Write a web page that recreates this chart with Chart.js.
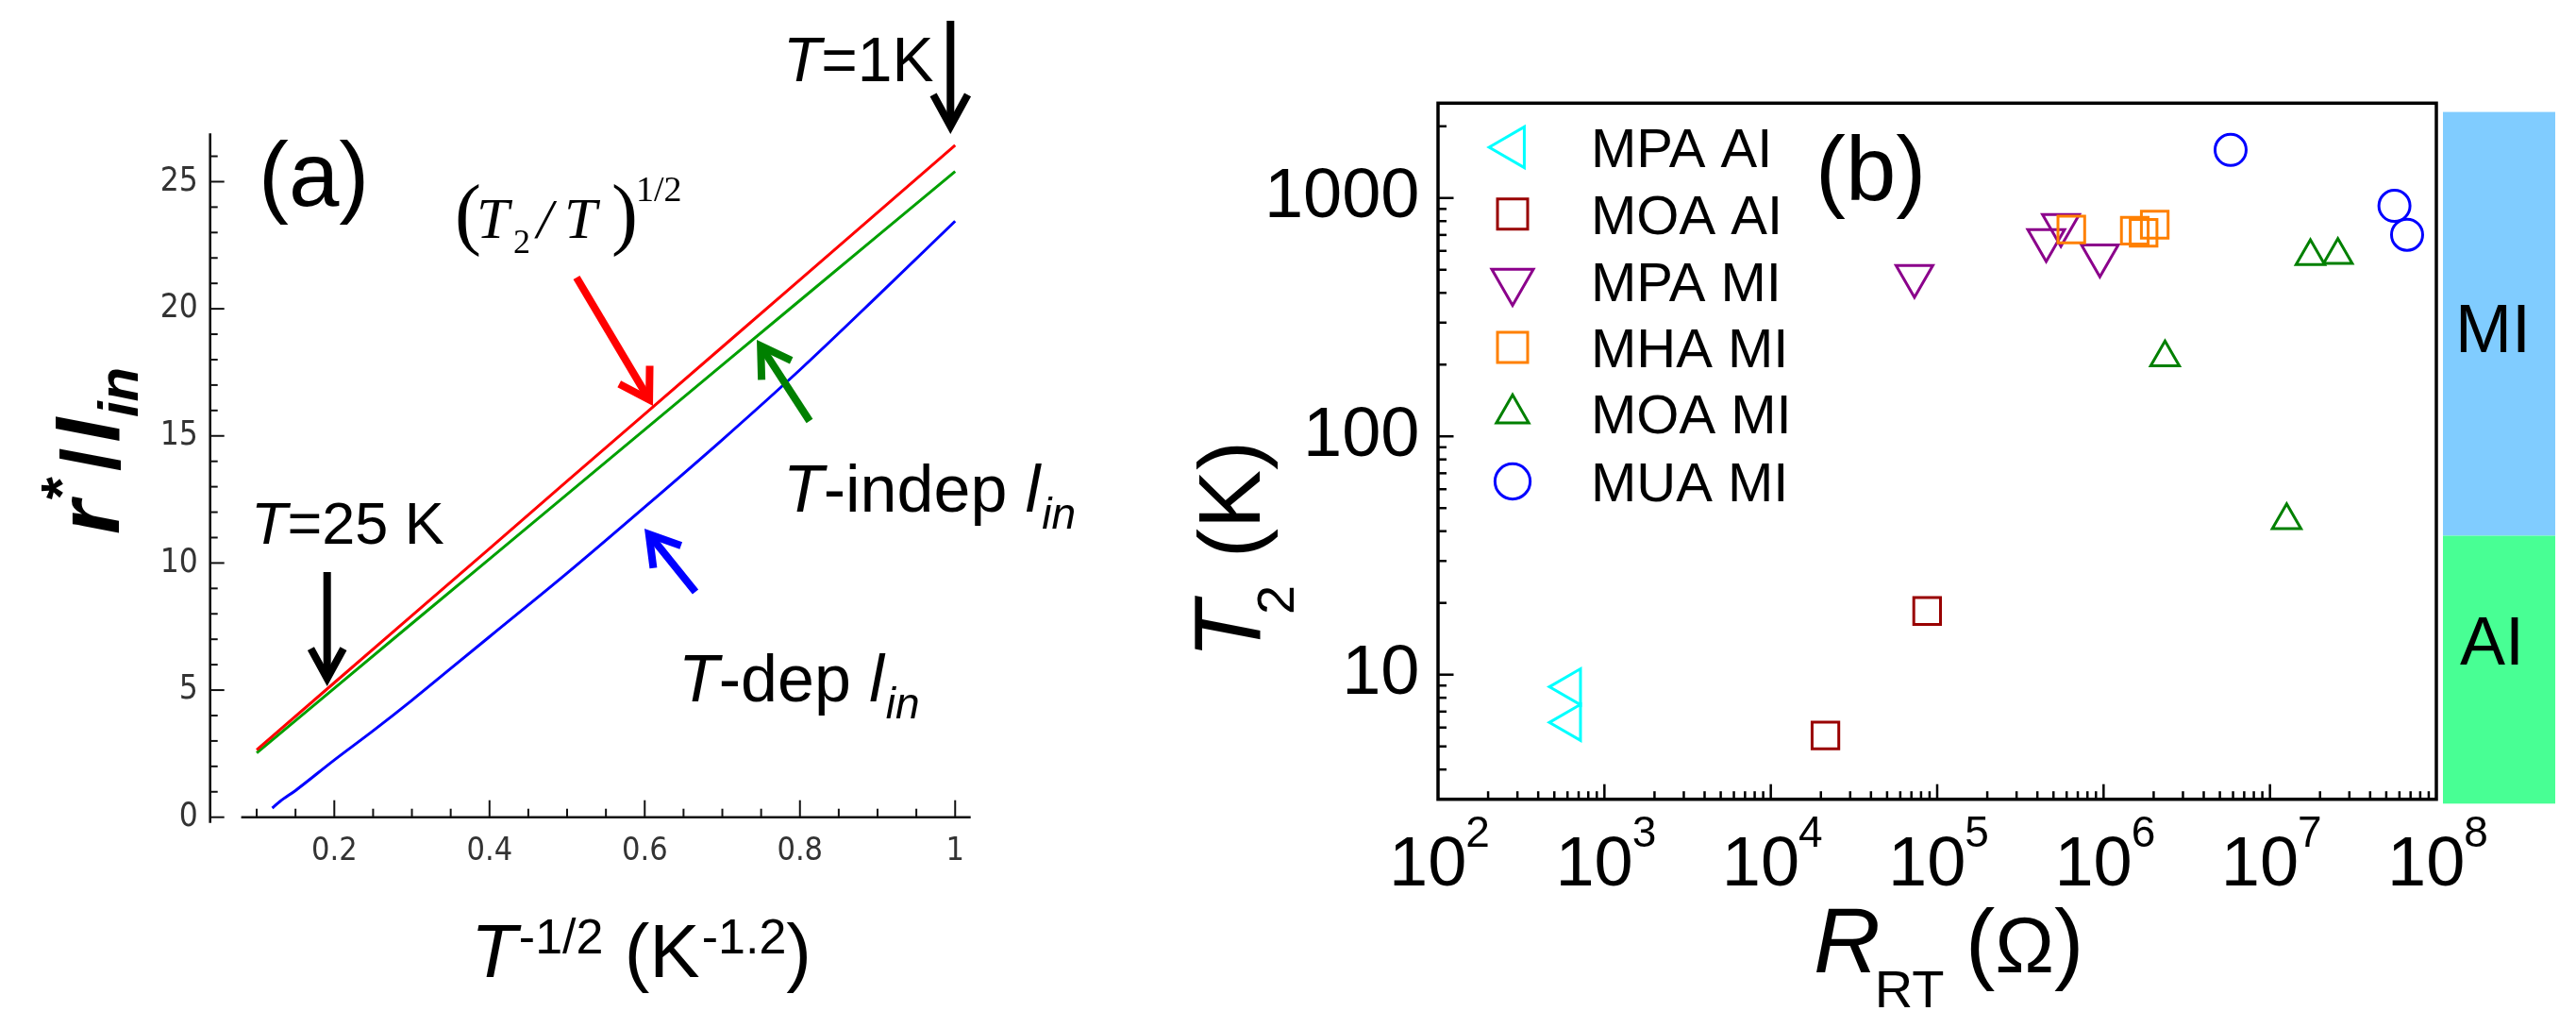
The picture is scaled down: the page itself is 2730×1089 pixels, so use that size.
<!DOCTYPE html>
<html><head><meta charset="utf-8">
<script src="https://cdn.jsdelivr.net/npm/chart.js@4.4.1/dist/chart.umd.min.js"></script>
<style>
html,body{margin:0;padding:0;background:#fff;}
body{width:2730px;height:1089px;position:relative;overflow:hidden;}
canvas{position:absolute;top:0;}
#ca{left:0;} #cb{left:1200px;}
</style></head><body>
<canvas id="ca" width="1200" height="1089"></canvas>
<canvas id="cb" width="1530" height="1089"></canvas>
<script>
// ---------- Panel (a) data ----------
const aX = [0.10,0.20,0.30,0.40,0.50,0.60,0.70,0.80,0.90,1.00];
const aRed = [2.65,5.29,7.93,10.57,13.22,15.86,18.50,21.14,23.79,26.43];
const aGreen = [2.53,5.07,7.62,10.16,12.70,15.25,17.79,20.33,22.87,25.40];
const aBlueX = [0.12,0.13,0.15,0.20,0.25,0.30,0.35,0.40,0.50,0.60,0.70,0.80,0.90,1.00];
const aBlue = [0.36,0.62,1.05,2.25,3.40,4.60,5.85,7.10,9.60,12.20,14.85,17.60,20.50,23.45];
const aXTickVals = [0.10,0.15,0.20,0.25,0.30,0.35,0.40,0.45,0.50,0.55,0.60,0.65,0.70,0.75,0.80,0.85,0.90,0.95,1.00];
const aXTickLabels = ['','','0.2','','','','0.4','','','','0.6','','','','0.8','','','','1'];
const aYTickVals = [0,1,2,3,4,5,6,7,8,9,10,11,12,13,14,15,16,17,18,19,20,21,22,23,24,25,26];
const aYTickLabels = ['0','','','','','5','','','','','10','','','','','15','','','','','20','','','','','25',''];

// ---------- Panel (b) data ----------
const bNames = ['MPA AI','MOA AI','MPA MI','MHA MI','MOA MI','MUA MI'];
const mpaAI_R = [622, 622];           const mpaAI_T = [8.89, 6.30];
const moaAI_R = [2.13e4, 8.7e4];      const moaAI_T = [5.56, 18.5];
const mpaMI_R = [7.3e4, 4.52e5, 5.54e5, 9.5e5]; const mpaMI_T = [470, 665, 770, 573];
const mhaMI_R = [6.4e5, 1.54e6, 1.74e6, 2.03e6]; const mhaMI_T = [738, 730, 714, 773];
const moaMI_R = [1.75e7, 2.56e7, 2.34e6, 1.26e7]; const moaMI_T = [569, 576, 214, 44.4];
const muaMI_R = [5.8e6, 5.6e7, 6.67e7]; const muaMI_T = [1592, 927, 701];
const bXDecades = [1e2,1e3,1e4,1e5,1e6,1e7,1e8];
const bXExponents = ['2','3','4','5','6','7','8'];
const bYDecades = [10,100,1000];
const bYLabels = ['10','100','1000'];
const bMinorMult = [2,3,4,5,6,7,8,9];

const SANS = '"Liberation Sans", Arial, sans-serif';
const SERIF = '"Liberation Serif", "Times New Roman", serif';
const TICKF = '"DejaVu Sans Condensed", "DejaVu Sans", sans-serif';

function pts(xs, ys){ return xs.map((x,i)=>({x:x, y:ys[i]})); }
function line(ctx,x1,y1,x2,y2){ ctx.beginPath(); ctx.moveTo(x1,y1); ctx.lineTo(x2,y2); ctx.stroke(); }
function arrow(ctx,x1,y1,x2,y2,color,lw,head,half){
  ctx.save(); ctx.strokeStyle=color; ctx.lineWidth=lw; ctx.lineCap='butt'; ctx.lineJoin='miter'; ctx.miterLimit=10;
  const ang=Math.atan2(y2-y1,x2-x1);
  const back = lw/(2*Math.sin(half));
  const tx = x2 - Math.cos(ang)*back, ty = y2 - Math.sin(ang)*back;
  line(ctx,x1,y1,tx - Math.cos(ang)*lw*0.3,ty - Math.sin(ang)*lw*0.3);
  ctx.beginPath();
  ctx.moveTo(tx - head*Math.cos(ang-half), ty - head*Math.sin(ang-half));
  ctx.lineTo(tx,ty);
  ctx.lineTo(tx - head*Math.cos(ang+half), ty - head*Math.sin(ang+half));
  ctx.stroke();
  ctx.restore();
}
function runs(ctx,x,y,list,color){
  ctx.save(); ctx.fillStyle=color||'#000'; ctx.textAlign='left'; ctx.textBaseline='alphabetic';
  let cx=x;
  list.forEach(r=>{ ctx.font=r.f; ctx.fillText(r.t, cx + (r.dx||0), y + (r.dy||0)); cx += ctx.measureText(r.t).width + (r.dx||0) + (r.adv||0); });
  ctx.restore(); return cx;
}

// ---------- Panel (a) ----------
const plugA = {
  id:'plugA',
  afterDraw(chart){
    const ctx=chart.ctx, xs=chart.scales.x, ys=chart.scales.y, ca=chart.chartArea;
    ctx.save();
    ctx.strokeStyle='#111'; ctx.lineWidth=2.6;
    const y0=ys.getPixelForValue(0), xl=ca.left;
    line(ctx,xl,ys.getPixelForValue(26.9),xl,y0+6);
    line(ctx,xs.getPixelForValue(0.08),y0,xs.getPixelForValue(1.02),y0);
    ctx.lineWidth=2;
    xs.ticks.forEach(t=>{ const p=xs.getPixelForValue(t.value); line(ctx,p,y0,p,y0-(t.label?18:9)); });
    ys.ticks.forEach(t=>{ const p=ys.getPixelForValue(t.value); line(ctx,xl,p,xl+(t.label?15:8),p); });
    ctx.restore();

    runs(ctx,274,218,[{t:'(a)',f:'96px '+SANS}]);
    // (T2/T)^1/2
    runs(ctx,482,254,[{t:'(',f:'84px '+SERIF}]);
    runs(ctx,505,252,[{t:'T',f:'italic 62px '+SERIF}]);
    runs(ctx,544,268,[{t:'2',f:'36px '+SERIF}]);
    runs(ctx,569,252,[{t:'/',f:'italic 60px '+SERIF}]);
    runs(ctx,598,252,[{t:'T',f:'italic 62px '+SERIF}]);
    runs(ctx,648,254,[{t:')',f:'84px '+SERIF}]);
    runs(ctx,674,213,[{t:'1/2',f:'38px '+SERIF}]);
    // T=25 K
    runs(ctx,266,576,[{t:'T',f:'italic 63px '+SANS},{t:'=25 K',f:'63px '+SANS}]);
    arrow(ctx,346.7,606,346.7,727,'#000',8,36,0.5);
    // T=1K
    runs(ctx,830,86,[{t:'T',f:'italic 66px '+SANS},{t:'=1K',f:'66px '+SANS}]);
    arrow(ctx,1007.3,22,1007.3,142,'#000',8,38,0.5);
    // coloured arrows
    arrow(ctx,611,294,692,430,'#ff0000',8,36,0.55);
    arrow(ctx,858,446,802,360,'#008000',8,36,0.55);
    arrow(ctx,737,627,683,560,'#0000ff',8,36,0.55);
    // T-indep l_in
    let e = runs(ctx,830,542,[{t:'T',f:'italic 70px '+SANS},{t:'-indep ',f:'70px '+SANS},{t:'l',f:'italic 70px '+SANS}]);
    runs(ctx,e+2,560,[{t:'in',f:'italic 46px '+SANS}]);
    e = runs(ctx,719,743,[{t:'T',f:'italic 70px '+SANS},{t:'-dep ',f:'70px '+SANS},{t:'l',f:'italic 70px '+SANS}]);
    runs(ctx,e+2,761,[{t:'in',f:'italic 46px '+SANS}]);
    // x title
    e = runs(ctx,499,1035,[{t:'T',f:'italic 80px '+SANS}]);
    e = runs(ctx,e+2,1010,[{t:'-1/2',f:'52px '+SANS}]);
    e = runs(ctx,e,1035,[{t:' (K',f:'80px '+SANS}]);
    e = runs(ctx,e+2,1010,[{t:'-1.2',f:'52px '+SANS}]);
    runs(ctx,e,1035,[{t:')',f:'80px '+SANS}]);
    // y title (rotated): r*/l_in
    ctx.save();
    ctx.translate(126,566); ctx.rotate(-Math.PI/2);
    let q = runs(ctx,0,0,[{t:'r',f:'italic bold 92px '+SANS}]);
    q = runs(ctx,q+1,-40,[{t:'*',f:'bold 62px '+SANS}]);
    q = runs(ctx,q+6,0,[{t:'/',f:'bold 88px '+SANS}]);
    q = runs(ctx,q+6,0,[{t:'l',f:'italic bold 92px '+SANS}]);
    runs(ctx,q+1,20,[{t:'in',f:'italic bold 60px '+SANS}]);
    ctx.restore();
  }
};

new Chart(document.getElementById('ca'), {
  type:'line',
  data:{ datasets:[
    {label:'(T2/T)^1/2', data:pts(aX,aRed), borderColor:'#ff0000', borderWidth:3, pointRadius:0, tension:0},
    {label:'T-indep l_in', data:pts(aX,aGreen), borderColor:'#00a000', borderWidth:3, pointRadius:0, tension:0},
    {label:'T-dep l_in', data:pts(aBlueX,aBlue), borderColor:'#0000ff', borderWidth:3, pointRadius:0, cubicInterpolationMode:'monotone'}
  ]},
  options:{
    responsive:false, animation:false, devicePixelRatio:1,
    layout:{padding:{left:0,top:141.3,right:171.3,bottom:0}},
    plugins:{legend:{display:false}, tooltip:{enabled:false}},
    scales:{
      x:{type:'linear', min:0.04, max:1.02,
        afterBuildTicks:s=>{ s.ticks = aXTickVals.map(v=>({value:v})); },
        afterFit:s=>{ s.height = 1089-865.7; },
        grid:{display:false, drawTicks:false}, border:{display:false},
        ticks:{autoSkip:false, maxRotation:0, padding:16, color:'#333', font:{family:TICKF, size:34},
          callback:(v,i)=>aXTickLabels[i]}
      },
      y:{type:'linear', min:0, max:26.9,
        afterBuildTicks:s=>{ s.ticks = aYTickVals.map(v=>({value:v})); },
        afterFit:s=>{ s.width = 222.7; },
        grid:{display:false, drawTicks:false}, border:{display:false},
        ticks:{autoSkip:false, padding:13, color:'#333', font:{family:TICKF, size:35},
          callback:(v,i)=>aYTickLabels[i]}
      }
    }
  },
  plugins:[plugA]
});

// ---------- Panel (b) ----------
const OX = 1200;
const bColors = ['#00ffff','#990000','#8b008b','#ff8000','#008000','#0000ff'];
const bStyles = [
  {pointStyle:'triangle', rotation:-90, radius:22},
  {pointStyle:'rect', rotation:0, radius:20},
  {pointStyle:'triangle', rotation:180, radius:22.5},
  {pointStyle:'rect', rotation:0, radius:20},
  {pointStyle:'triangle', rotation:0, radius:17.5},
  {pointStyle:'circle', rotation:0, radius:16.5}
];
const bData = [pts(mpaAI_R,mpaAI_T), pts(moaAI_R,moaAI_T), pts(mpaMI_R,mpaMI_T), pts(mhaMI_R,mhaMI_T), pts(moaMI_R,moaMI_T), pts(muaMI_R,muaMI_T)];
const bOrder = [0,0,0,-1,0,0];

function drawMarker(ctx, st, color, x, y, r){
  ctx.save(); ctx.strokeStyle=color; ctx.fillStyle='rgba(0,0,0,0)'; ctx.lineWidth=3;
  if (Chart.helpers && Chart.helpers.drawPoint) {
    Chart.helpers.drawPoint(ctx, {pointStyle:st.pointStyle, rotation:st.rotation, radius:r, borderWidth:3}, x, y);
  }
  ctx.restore();
}

const plugB = {
  id:'plugB',
  afterDraw(chart){
    const ctx=chart.ctx, xs=chart.scales.x, ys=chart.scales.y, ca=chart.chartArea;
    ctx.save(); ctx.translate(-OX,0);
    const L=ca.left+OX, R=ca.right+OX, T=ca.top, B=ca.bottom;
    ctx.strokeStyle='#000'; ctx.lineWidth=3.5; ctx.lineCap='square';
    ctx.strokeRect(L,T,R-L,B-T);
    ctx.lineCap='butt'; ctx.lineWidth=2.5;
    xs.ticks.forEach(t=>{ const p=xs.getPixelForValue(t.value)+OX; if(p<L+1||p>R-1) return; line(ctx,p,B,p,B-(t.major?16:8.5)); });
    ys.ticks.forEach(t=>{ const p=ys.getPixelForValue(t.value); if(p<T+1||p>B-1) return; line(ctx,L,p,L+(t.major?16.5:9),p); });
    bXDecades.forEach((v,i)=>{
      const p=xs.getPixelForValue(v)+OX;
      ctx.font='74px '+SANS; const w1=ctx.measureText('10').width;
      ctx.font='46px '+SANS; const w2=ctx.measureText(bXExponents[i]).width;
      const x0=p-(w1+w2)/2+2;
      runs(ctx,x0,938,[{t:'10',f:'74px '+SANS}]);
      runs(ctx,x0+w1-1,897,[{t:bXExponents[i],f:'46px '+SANS}]);
    });
    let e = runs(ctx,1922,1030,[{t:'R',f:'italic 98px '+SANS}]);
    e = runs(ctx,e-6,1067,[{t:'RT',f:'56px '+SANS}]);
    runs(ctx,2083,1030,[{t:'(',f:'94px '+SANS},{t:'Ω',f:'84px '+SANS},{t:')',f:'94px '+SANS}]);
    ctx.save(); ctx.translate(1335,698); ctx.rotate(-Math.PI/2);
    let q = runs(ctx,0,0,[{t:'T',f:'italic 100px '+SANS}]);
    runs(ctx,q-14,36,[{t:'2',f:'56px '+SANS}]);
    runs(ctx,107,0,[{t:'(K)',f:'93px '+SANS}]);
    ctx.restore();
    runs(ctx,1924,212,[{t:'(b)',f:'96px '+SANS}]);
    const rowsY=[156,226.7,298,368,438,510];
    bNames.forEach((n,i)=>{
      drawMarker(ctx,bStyles[i],bColors[i],1603,rowsY[i],bStyles[i].radius*1.13);
      runs(ctx,1686,rowsY[i]+20.8,[{t:n,f:'58px '+SANS}]);
    });
    ctx.fillStyle='#80ccff'; ctx.fillRect(2589,118.6,2708-2589,567.5-118.6);
    ctx.fillStyle='#48ff94'; ctx.fillRect(2589,567.5,2708-2589,851.3-567.5);
    ctx.fillStyle='#000'; ctx.font='72px '+SANS; ctx.textAlign='center'; ctx.textBaseline='alphabetic';
    ctx.fillText('MI',2642,373); ctx.fillText('AI',2641,704);
    ctx.restore();
  }
};

function buildLogTicks(decades, lo, hi){
  const out=[];
  decades.forEach(d=>{ out.push({value:d, major:true}); bMinorMult.forEach(m=>{ out.push({value:d*m, major:false}); out.push({value:d*m/10, major:false}); }); out.push({value:d/10,major:true}); });
  const seen={}; const res=[];
  out.forEach(t=>{ const k=t.value.toPrecision(6); if(t.value<lo*0.999||t.value>hi*1.001) return; if(seen[k]!==undefined){ if(t.major) res[seen[k]].major=true; return;} seen[k]=res.length; res.push(t); });
  res.sort((a,b)=>a.value-b.value); return res;
}

new Chart(document.getElementById('cb'), {
  type:'scatter',
  data:{ datasets: bNames.map((n,i)=>({
    label:n, data:bData[i], order:bOrder[i],
    pointStyle:bStyles[i].pointStyle, rotation:bStyles[i].rotation, pointRadius:bStyles[i].radius,
    borderColor:bColors[i], backgroundColor:'rgba(0,0,0,0)', pointBorderWidth:3, borderWidth:3
  }))},
  options:{
    responsive:false, animation:false, devicePixelRatio:1,
    layout:{padding:{left:0,top:109.3,right:1530-1382,bottom:0}},
    plugins:{legend:{display:false}, tooltip:{enabled:false}},
    scales:{
      x:{type:'logarithmic', min:1e2, max:1e8,
        afterBuildTicks:s=>{ s.ticks = buildLogTicks(bXDecades,1e2,1e8); },
        afterFit:s=>{ s.height = 1089-846.7; },
        grid:{display:false, drawTicks:false}, border:{display:false},
        ticks:{display:false, autoSkip:false}
      },
      y:{type:'logarithmic', min:3, max:2500,
        afterBuildTicks:s=>{ s.ticks = buildLogTicks([1,10,100,1000],3,2500); },
        afterFit:s=>{ s.width = 324; },
        grid:{display:false, drawTicks:false}, border:{display:false},
        ticks:{autoSkip:false, padding:19.5, color:'#000', font:{family:SANS, size:74},
          callback:(v)=>{ const k=bYDecades.indexOf(v); return k>=0 ? bYLabels[k] : ''; }}
      }
    }
  },
  plugins:[plugB]
});
</script>
</body></html>
